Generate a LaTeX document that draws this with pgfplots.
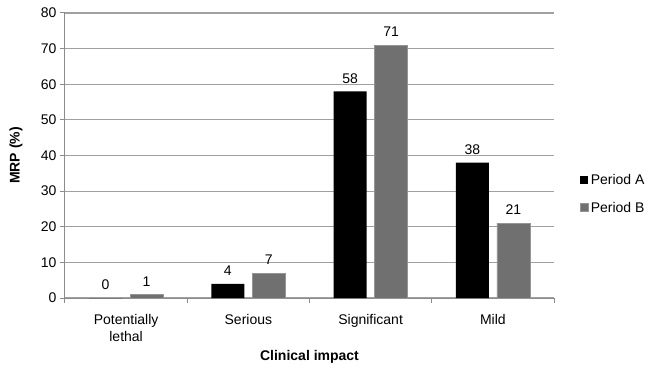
\documentclass[border=0pt]{standalone}
\usepackage{pgfplots}
\pgfplotsset{compat=1.18}
\usepackage{fontspec}
\setmainfont{Liberation Sans}
\definecolor{gridc}{HTML}{A0A0A0}
\definecolor{axc}{HTML}{8C8C8C}
\definecolor{barB}{HTML}{707070}
\definecolor{edgeB}{HTML}{959595}
\newcommand{\fs}{\fontsize{14}{16.5}\selectfont}
\begin{document}
\begin{tikzpicture}
\begin{axis}[
  scale only axis, width=489pt, height=285pt,
  ymin=0, ymax=80, ytick={0,10,...,80},
  xmin=-0.5, xmax=3.5,
  xtick={0,1,2,3},
  xticklabels={{Potentially\\lethal},Serious,Significant,Mild},
  minor xtick={-0.5,0.5,1.5,2.5,3.5},
  major x tick style={draw=none},
  minor tick length=5pt,
  major tick length=5pt,
  tick align=outside,
  tick style={color=axc, line width=1pt},
  axis lines*=left,
  axis line style={color=axc, line width=1pt},
  ymajorgrids=true,
  major grid style={color=gridc, line width=1.2pt},
  /pgf/number format/assume math mode=true,
  tick label style={font=\fs},
  x tick label style={align=center, yshift=-8pt},
  ybar=8pt, bar width=33pt,
  nodes near coords,
  every node near coord/.append style={font=\fs, anchor=south, inner sep=0pt, yshift=8pt, color=black},
  xlabel={\bfseries Clinical impact},
  ylabel={\bfseries MRP (\%)},
  every axis x label/.style={at={(axis description cs:0.5,-0.207)}, anchor=center, font=\fs},
  every axis y label/.style={at={(axis description cs:-0.10,0.5)}, anchor=center, rotate=90, font=\fs},
  legend style={draw=none, fill=none, at={(axis description cs:1.047,0.365)}, anchor=west, font=\fs, row sep=12pt},
  legend cell align=left,
  legend image code/.code={\fill[#1] (0pt,-4pt) rectangle (8pt,4pt);},
]
\addplot[fill=black, draw=none] coordinates {(0,0) (1,4) (2,58) (3,38)};
\addplot[fill=barB, draw=edgeB, line width=0.6pt] coordinates {(0,1) (1,7) (2,71) (3,21)};
\legend{Period A, Period B}
\coordinate (O) at (rel axis cs:0,0);
\end{axis}
\pgfresetboundingbox
\path[use as bounding box] ([shift={(-65pt,-71pt)}]O) rectangle ++(660pt,369pt);
\end{tikzpicture}
\end{document}
